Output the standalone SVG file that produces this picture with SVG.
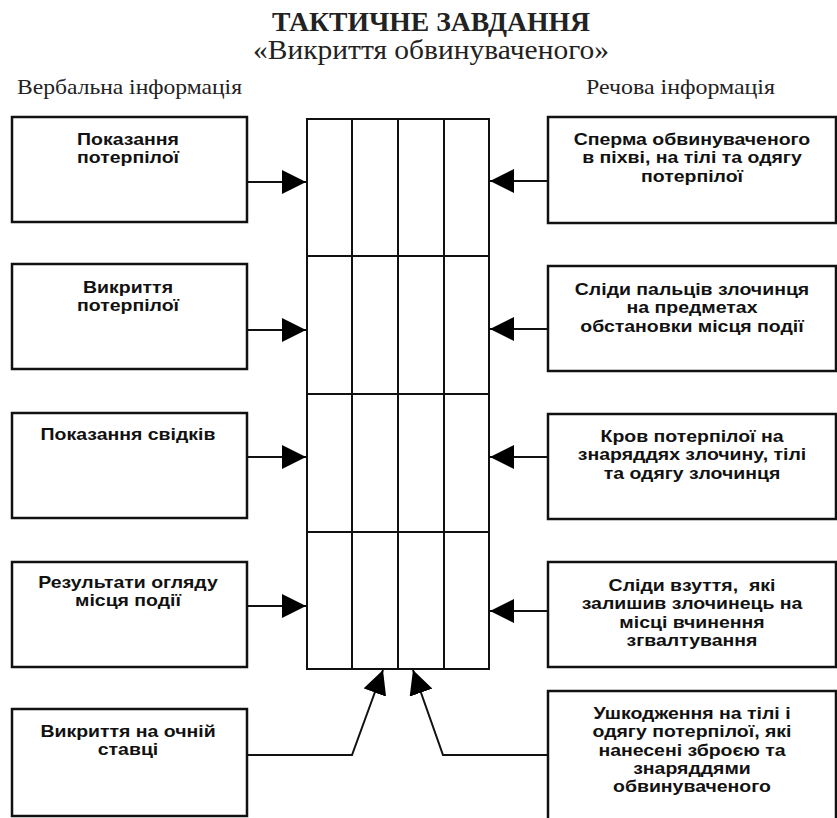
<svg xmlns="http://www.w3.org/2000/svg" width="837" height="818" viewBox="0 0 837 818">
<style>
.bg{fill:#fff}
.box{fill:#fff;stroke:#111;stroke-width:2.5}
.grid{fill:none;stroke:#111;stroke-width:2}
.conn{fill:none;stroke:#111;stroke-width:2}
.t{font-family:"Liberation Sans",Arial,sans-serif;font-weight:bold;font-size:16.5px;fill:#111;text-anchor:middle}
.h1{font-family:"Liberation Serif","Times New Roman",serif;font-weight:bold;font-size:28px;fill:#222;text-anchor:middle}
.h2{font-family:"Liberation Serif","Times New Roman",serif;font-size:27px;fill:#222;text-anchor:middle}
.h3{font-family:"Liberation Serif","Times New Roman",serif;font-size:22px;fill:#222}
</style>
<defs>
<marker id="ah" viewBox="0 0 24 24" refX="24" refY="12" markerWidth="24" markerHeight="24" markerUnits="userSpaceOnUse" orient="auto">
<path d="M0,0 L24,12 L0,24 z" fill="#000"/>
</marker>
</defs>
<rect class="bg" x="0" y="0" width="837" height="818"/>

<g id="title">
<text class="h1" x="431" y="31" textLength="318" lengthAdjust="spacingAndGlyphs">ТАКТИЧНЕ ЗАВДАННЯ</text>
<text class="h2" x="431" y="59" textLength="356" lengthAdjust="spacingAndGlyphs">«Викриття обвинуваченого»</text>
<text class="h3" x="17" y="94" textLength="225" lengthAdjust="spacingAndGlyphs">Вербальна інформація</text>
<text class="h3" x="586" y="94" textLength="189" lengthAdjust="spacingAndGlyphs">Речова інформація</text>
</g>

<g id="center-grid">
<rect class="grid" x="307" y="119" width="182" height="550"/>
<path class="grid" d="M352,119 V669 M398,119 V669 M444,119 V669 M307,256 H489 M307,394 H489 M307,532 H489"/>
</g>

<g id="l1"><rect class="box" x="12" y="117" width="235" height="105"/>
<text class="t" transform="translate(128 145) scale(1.18 1)">Показання</text><text class="t" transform="translate(128 163.3) scale(1.18 1)">потерпілої</text></g>
<g id="l2"><rect class="box" x="12" y="264" width="235" height="105"/>
<text class="t" transform="translate(128 293) scale(1.18 1)">Викриття</text><text class="t" transform="translate(128 311.3) scale(1.18 1)">потерпілої</text></g>
<g id="l3"><rect class="box" x="12" y="413" width="235" height="105"/>
<text class="t" transform="translate(128 440) scale(1.18 1)">Показання свідків</text></g>
<g id="l4"><rect class="box" x="12" y="562" width="235" height="105"/>
<text class="t" transform="translate(128 588) scale(1.18 1)">Результати огляду</text><text class="t" transform="translate(128 606.3) scale(1.18 1)">місця події</text></g>
<g id="l5"><rect class="box" x="12" y="709" width="235" height="107"/>
<text class="t" transform="translate(128 737) scale(1.18 1)">Викриття на очній</text><text class="t" transform="translate(128 755.3) scale(1.18 1)">ставці</text></g>

<g id="r1"><rect class="box" x="548" y="117" width="288" height="106"/>
<text class="t" transform="translate(692 145) scale(1.18 1)">Сперма обвинуваченого</text><text class="t" transform="translate(692 163.3) scale(1.18 1)">в піхві, на тілі та одягу</text><text class="t" transform="translate(692 181.6) scale(1.18 1)">потерпілої</text></g>
<g id="r2"><rect class="box" x="548" y="266" width="288" height="105"/>
<text class="t" transform="translate(692 295) scale(1.18 1)">Сліди пальців злочинця</text><text class="t" transform="translate(692 313.3) scale(1.18 1)">на предметах</text><text class="t" transform="translate(692 331.6) scale(1.18 1)">обстановки місця події</text></g>
<g id="r3"><rect class="box" x="548" y="414" width="288" height="105"/>
<text class="t" transform="translate(692 442) scale(1.18 1)">Кров потерпілої на</text><text class="t" transform="translate(692 460.3) scale(1.18 1)">знаряддях злочину, тілі</text><text class="t" transform="translate(692 478.6) scale(1.18 1)">та одягу злочинця</text></g>
<g id="r4"><rect class="box" x="548" y="562" width="288" height="105"/>
<text class="t" transform="translate(692 591) scale(1.18 1)" xml:space="preserve">Сліди взуття,  які</text><text class="t" transform="translate(692 609.3) scale(1.18 1)">залишив злочинець на</text><text class="t" transform="translate(692 627.6) scale(1.18 1)">місці вчинення</text><text class="t" transform="translate(692 645.9) scale(1.18 1)">згвалтування</text></g>
<g id="r5"><rect class="box" x="548" y="691" width="288" height="140"/>
<text class="t" transform="translate(692 719) scale(1.18 1)">Ушкодження на тілі і</text><text class="t" transform="translate(692 737.3) scale(1.18 1)">одягу потерпілої, які</text><text class="t" transform="translate(692 755.6) scale(1.18 1)">нанесені зброєю та</text><text class="t" transform="translate(692 773.9) scale(1.18 1)">знаряддями</text><text class="t" transform="translate(692 792.2) scale(1.18 1)">обвинуваченого</text></g>

<g id="connectors">
<path class="conn" d="M247,182 H306" marker-end="url(#ah)"/>
<path class="conn" d="M247,330 H306" marker-end="url(#ah)"/>
<path class="conn" d="M247,457 H306" marker-end="url(#ah)"/>
<path class="conn" d="M247,606 H306" marker-end="url(#ah)"/>
<path class="conn" d="M548,181 H490" marker-end="url(#ah)"/>
<path class="conn" d="M548,329 H490" marker-end="url(#ah)"/>
<path class="conn" d="M548,457 H490" marker-end="url(#ah)"/>
<path class="conn" d="M548,611 H490" marker-end="url(#ah)"/>
<path class="conn" d="M247,755 H352 L383,670" marker-end="url(#ah)"/>
<path class="conn" d="M548,755 H443 L413,670" marker-end="url(#ah)"/>
</g>
</svg>
